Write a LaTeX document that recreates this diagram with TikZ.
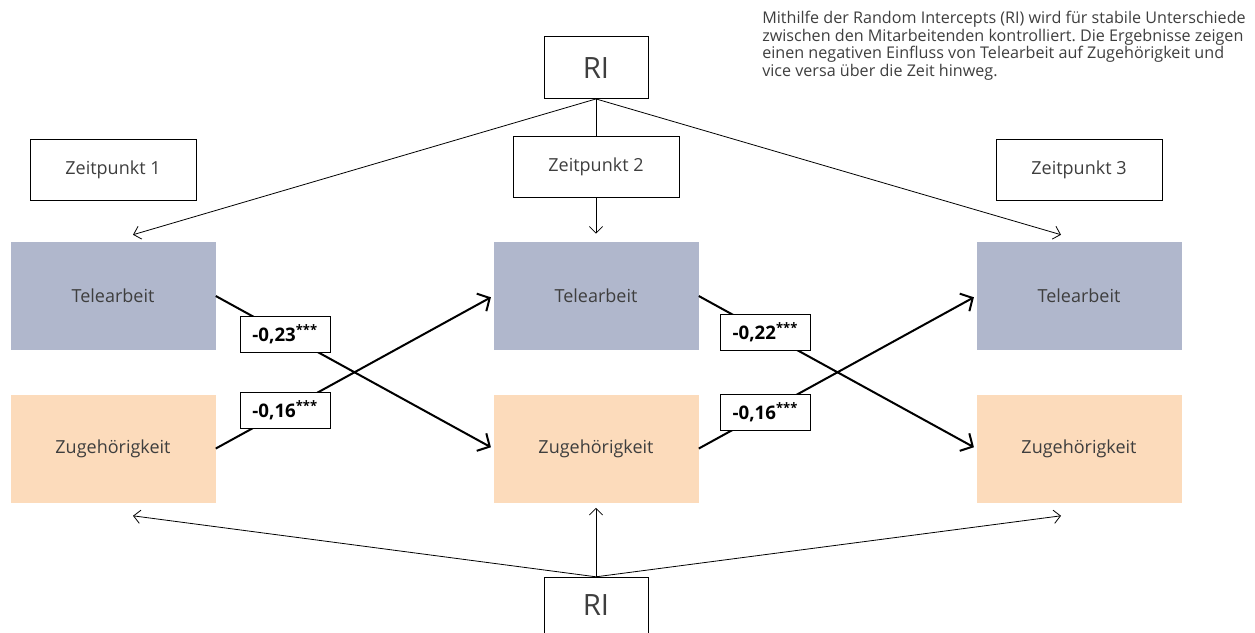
\documentclass[tikz,border=0pt]{standalone}
\usepackage{fontspec}
\setmainfont{Open Sans}
\usetikzlibrary{arrows.meta,positioning}
\definecolor{telecol}{RGB}{176,183,204}
\definecolor{zugcol}{RGB}{252,219,187}
\definecolor{txtgray}{RGB}{62,62,62}
\newcommand{\hshim}{208.1pt}
\newcommand{\coef}[1]{\textbf{#1}\textsuperscript{\textbf{***}}}
\frenchspacing
\tikzset{
  var/.style={minimum width=153.75pt,minimum height=81pt,inner sep=0pt,
    text=txtgray,font=\fontsize{13.5}{15}\selectfont},
  tele/.style={var,fill=telecol},
  zug/.style={var,fill=zugcol},
  zeit/.style={draw,line width=0.6pt,minimum width=124.5pt,minimum height=45.75pt,inner sep=0pt,
    text=txtgray,font=\fontsize{13.5}{15}\selectfont},
  ribox/.style={draw,line width=0.6pt,minimum width=78pt,inner sep=0pt,
    text=txtgray,font=\fontsize{22}{24}\selectfont},
  riline/.style={line width=0.6pt},
  riarrow/.style={riline,-{Straight Barb[length=5pt,width=10pt]}},
  crossarrow/.style={line width=1.5pt,-{Straight Barb[length=7pt,width=15pt]},shorten >=2pt},
  coefbox/.style={draw,line width=0.6pt,fill=white,minimum width=67.5pt,minimum height=27pt,
    inner sep=2pt,font=\fontsize{14}{16}\selectfont},
  note/.style={inner sep=0pt,align=left,text=txtgray,
    font=\fontsize{12.1}{11.7}\selectfont}
}
\begin{document}
\begin{tikzpicture}[x=0.75pt,y=-0.75pt]
  \useasboundingbox (0,0) rectangle (1255,632);

  \node[tele] (01) at (113,296)        {Telearbeit};
  \node[zug]  (02) [below=33pt of 01]   {Zugehörigkeit};
  \node[zeit] (00) [above=30.75pt of 01] {Zeitpunkt 1};

  \node[tele] (11) [right=\hshim of 01] {Telearbeit};
  \node[zug]  (12) [right=\hshim of 02] {Zugehörigkeit};
  \node[zeit] (10) [above=33pt of 11]   {Zeitpunkt 2};

  \node[tele] (21) [right=\hshim of 11] {Telearbeit};
  \node[zug]  (22) [right=\hshim of 12] {Zugehörigkeit};
  \node[zeit] (20) [above=30.75pt of 21] {Zeitpunkt 3};

  \node[ribox,minimum height=46.5pt] (ritop) [above=27.75pt of 10] {RI};
  \node[ribox,minimum height=42pt]   (ribot) [below=55.5pt of 12]  {RI};

  \node[note,anchor=north west] (info) at (762,11)
    {Mithilfe der Random Intercepts (RI) wird für stabile Unterschiede\\
     zwischen den Mitarbeitenden kontrolliert. Die Ergebnisse zeigen\\
     einen negativen Einfluss von Telearbeit auf Zugehörigkeit und\\
     vice versa über die Zeit hinweg.};

  %% random intercepts
  \draw[riarrow] (ritop.south) -- ([xshift=15pt,yshift=5.25pt]01.north);
  \draw[riarrow] (ritop.south) -- ([xshift=-13.5pt,yshift=5.25pt]21.north);
  \draw[riline] (ritop.south) -- (10.north);
  \draw[riarrow] (10.south) -- ([yshift=6pt]11.north);

  \draw[riarrow] (ribot.north) -- ([xshift=15pt,yshift=-9.75pt]02.south);
  \draw[riarrow] (ribot.north) -- ([xshift=-13.5pt,yshift=-9.75pt]22.south);
  \draw[riarrow] (ribot.north) -- ([yshift=-3.75pt]12.south);

  %% cross-lagged paths
  \draw[crossarrow] (01.east) -- (12.west) node[coefbox,pos=0.25] {\coef{-0,23}};
  \draw[crossarrow] (02.east) -- (11.west) node[coefbox,pos=0.25] {\coef{-0,16}};
  \draw[crossarrow] (11.east) -- (22.west) node[coefbox,pos=0.24] {\coef{-0,22}};
  \draw[crossarrow] (12.east) -- (21.west) node[coefbox,pos=0.24] {\coef{-0,16}};
\end{tikzpicture}
\end{document}
